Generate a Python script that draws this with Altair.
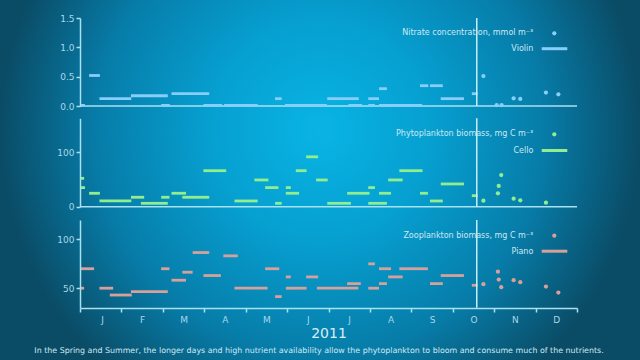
import altair as alt
import pandas as pd

# ---------------- data (x in months since 1 Jan 2011) ----------------
MONTHS = ["J", "F", "M", "A", "M", "J", "J", "A", "S", "O", "N", "D"]
PLAYHEAD = 9.58

# Nitrate concentration (Violin)
nit_start = [0.00, 0.22, 0.47, 1.23, 1.96, 2.21, 2.98, 3.48, 4.71, 4.95, 5.97, 6.48, 6.96, 6.96, 7.22, 7.22, 8.21, 8.45, 8.71, 9.46]
nit_end   = [0.12, 0.48, 1.24, 2.12, 2.17, 3.12, 3.43, 4.29, 4.87, 5.96, 6.73, 6.81, 7.12, 7.22, 7.41, 8.26, 8.41, 8.76, 9.27, 9.60]
nit_val   = [0.01, 0.52, 0.125, 0.175, 0.01, 0.21, 0.01, 0.01, 0.125, 0.01, 0.125, 0.01, 0.01, 0.125, 0.295, 0.01, 0.346, 0.346, 0.125, 0.21]
nit_dot_t = [9.74, 10.06, 10.18, 10.47, 10.63, 11.25, 11.55]
nit_dot_v = [0.51, 0.015, 0.015, 0.13, 0.12, 0.23, 0.20]

# Phytoplankton biomass (Cello)
phy_start = [0.00, 0.00, 0.22, 0.47, 1.23, 1.47, 1.96, 2.21, 2.47, 2.98, 3.73, 4.21, 4.47, 4.71, 4.97, 4.97, 5.21, 5.46, 5.70, 5.97, 6.45, 6.96, 6.96, 7.22, 7.44, 7.71, 8.21, 8.45, 8.71, 9.46]
phy_end   = [0.10, 0.12, 0.48, 1.24, 1.55, 2.12, 2.16, 2.56, 3.12, 3.53, 4.29, 4.55, 4.79, 4.87, 5.09, 5.29, 5.47, 5.75, 5.98, 6.54, 6.99, 7.12, 7.41, 7.51, 7.79, 8.27, 8.40, 8.76, 9.27, 9.60]
phy_val   = [52, 35, 24.6, 10.5, 17.3, 6.2, 17.3, 24.6, 17.3, 66, 10.5, 49, 35, 6.2, 35, 24.6, 66, 91.4, 49, 6.2, 24.6, 35, 6.2, 24.6, 49, 66, 24.6, 10.5, 41.7, 20.2]
phy_dot_t = [9.74, 10.09, 10.11, 10.17, 10.47, 10.63, 11.25]
phy_dot_v = [11, 24.5, 38, 58, 14.7, 11.7, 7.4]

# Zooplankton biomass (Piano)
zoo_start = [0.00, 0.00, 0.47, 0.72, 1.23, 1.96, 2.21, 2.47, 2.72, 2.98, 3.46, 3.73, 4.47, 4.71, 4.97, 4.97, 5.46, 5.72, 6.45, 6.96, 6.96, 7.22, 7.22, 7.44, 7.71, 8.45, 8.71, 9.46]
zoo_end   = [0.10, 0.34, 0.80, 1.25, 2.12, 2.16, 2.56, 2.72, 3.12, 3.40, 3.81, 4.53, 4.81, 4.87, 5.09, 5.47, 5.75, 6.72, 6.78, 7.12, 7.22, 7.51, 7.41, 7.79, 8.40, 8.76, 9.27, 9.60]
zoo_val   = [50, 70, 50, 43, 46.5, 70, 58.2, 66.4, 86.6, 63, 83.2, 50, 70, 41.4, 61.6, 50, 61.6, 50, 54.7, 75, 50, 70, 54.7, 61.6, 70, 54.7, 63, 53]
zoo_dot_t = [9.74, 10.09, 10.11, 10.17, 10.47, 10.63, 11.25, 11.55]
zoo_dot_v = [54.1, 67, 58.9, 51, 58.2, 56.2, 51.7, 45.5]

# ---------------- styling ----------------
W, H = 497, 290
PAD = {"left": 80, "top": 18, "right": 63, "bottom": 52}
AXIS_COL = "#a8e2f2"
LABEL_COL = "#a8d8ea"
TEXT_COL = "#cfe8f2"
FONT = "DejaVu Sans"
PLAY_COL = "#c8eef8"
VIOLIN_COL = "#87cefa"
CELLO_COL = "#90ee90"
PIANO_COL = "#d8a09a"

month_arr = "[" + ",".join("'%s'" % m for m in MONTHS) + ",'']"
xscale = alt.Scale(domain=[0, 12], nice=False, zero=False)
xaxis = alt.Axis(
    values=list(range(13)),
    labelExpr=month_arr + "[datum.value]",
    labelOffset=20.7,
    title="2011",
    titleFontSize=14,
    titleFontWeight="normal",
    titleColor="#d8eff7",
    titleFont=FONT,
    titlePadding=2,
    labelFont=FONT,
    labelFontSize=9,
    labelColor=LABEL_COL,
    labelPadding=3,
    tickSize=4,
    tickColor=AXIS_COL,
    tickWidth=1.5,
    domainColor=AXIS_COL,
    domainWidth=1.5,
    grid=False,
    zindex=2,
)


def panel(start, end, val, dt, dv, color, domain, rng, ticks, fmt, baseline):
    segs = pd.DataFrame({"start": start, "end": end, "value": val})
    dots = pd.DataFrame({"t": dt, "value": dv})
    yscale = alt.Scale(domain=domain, range=rng, nice=False, zero=False)
    yaxis = alt.Axis(
        orient="left", values=ticks, format=fmt, title=None, grid=False,
        labelFont=FONT, labelFontSize=9, labelColor=LABEL_COL, labelPadding=2,
        tickSize=4, tickColor=AXIS_COL, tickWidth=1.5,
        domainColor=AXIS_COL, domainWidth=1.5, zindex=2,
    )
    seg = alt.Chart(segs).mark_rule(color=color, strokeWidth=2.8, strokeCap="butt").encode(
        x=alt.X("start:Q", scale=xscale, axis=xaxis),
        x2="end:Q",
        y=alt.Y("value:Q", scale=yscale, axis=yaxis),
    )
    dot = alt.Chart(dots).mark_circle(color=color, size=18, opacity=1).encode(
        x=alt.X("t:Q", scale=xscale, axis=xaxis),
        y=alt.Y("value:Q", scale=yscale, axis=yaxis),
    )
    one = pd.DataFrame({"k": [0]})
    play = alt.Chart(one).mark_rule(color=PLAY_COL, strokeWidth=1.5).encode(
        x=alt.datum(PLAYHEAD, scale=xscale),
        y=alt.datum(domain[0]),
        y2=alt.datum(domain[1]),
    )
    layers = [seg, dot, play]
    if baseline:
        base = alt.Chart(one).mark_rule(color=AXIS_COL, strokeWidth=1.5).encode(
            x=alt.datum(0), x2=alt.datum(12), y=alt.datum(domain[0]),
        )
        layers.insert(0, base)
    return alt.layer(*layers)


p1 = panel(nit_start, nit_end, nit_val, nit_dot_t, nit_dot_v, VIOLIN_COL,
           [0, 1.5], [88, 0], [0, 0.5, 1.0, 1.5], ".1f", True)
p2 = panel(phy_start, phy_end, phy_val, phy_dot_t, phy_dot_v, CELLO_COL,
           [0, 162], [188.7, 100.3], [0, 100], "d", True)
p3 = panel(zoo_start, zoo_end, zoo_val, zoo_dot_t, zoo_dot_v, PIANO_COL,
           [30, 120], [289.7, 202], [50, 100], "d", False)

# background radial gradient
bg_fill = {
    "gradient": "radial",
    "x1": 0.5, "y1": 0.5, "r1": 0,
    "x2": 0.5, "y2": 0.5, "r2": 0.5,
    "stops": [
        {"offset": 0.0, "color": "#08b4e4"},
        {"offset": 0.35, "color": "#069fd0"},
        {"offset": 0.7, "color": "#077ca8"},
        {"offset": 1.0, "color": "#0a4c66"},
    ],
}
one = pd.DataFrame({"k": [0]})
bg = alt.Chart(one).mark_rect(fill=bg_fill, stroke=None).encode(
    x=alt.value(-80), x2=alt.value(560), y=alt.value(-208), y2=alt.value(432)
)

# legend-like annotations
leg_titles = ["Nitrate concentration, mmol m\u207b\u00b3",
              "Phytoplankton biomass, mg C m\u207b\u00b3",
              "Zooplankton biomass, mg C m\u207b\u00b3"]
leg_names = ["Violin", "Cello", "Piano"]
leg_colors = [VIOLIN_COL, CELLO_COL, PIANO_COL]
leg_y1 = [15.3, 116.3, 217.7]
leg_y2 = [30.7, 132.5, 233.2]

legend_layers = []
for t, n, c, ya, yb in zip(leg_titles, leg_names, leg_colors, leg_y1, leg_y2):
    legend_layers.append(alt.Chart(one).mark_text(
        text=t, align="right", baseline="middle", font=FONT, fontSize=8, color=TEXT_COL
    ).encode(x=alt.value(453.3), y=alt.value(ya)))
    legend_layers.append(alt.Chart(one).mark_text(
        text=n, align="right", baseline="middle", font=FONT, fontSize=8, color=TEXT_COL
    ).encode(x=alt.value(453.3), y=alt.value(yb + 0.5)))
    legend_layers.append(alt.Chart(one).mark_circle(color=c, size=18, opacity=1).encode(
        x=alt.value(474.3), y=alt.value(ya)))
    legend_layers.append(alt.Chart(one).mark_rule(color=c, strokeWidth=3, strokeCap="butt").encode(
        x=alt.value(461.7), x2=alt.value(487.3), y=alt.value(yb)))

caption = alt.Chart(one).mark_text(
    text="In the Spring and Summer, the longer days and high nutrient availability allow the phytoplankton to bloom and consume much of the nutrients.",
    align="center", baseline="middle", font=FONT, fontSize=7.9, color=TEXT_COL,
).encode(x=alt.value(239), y=alt.value(333))

chart = alt.layer(bg, p1, p2, p3, *legend_layers, caption).resolve_scale(
    y="independent"
).resolve_axis(y="independent").properties(
    width=W, height=H, padding=PAD, autosize=alt.AutoSizeParams(type="none"),
    background="#0a4c66",
).configure_view(stroke=None)

chart.save("out.html", embed_options={"renderer": "svg", "actions": False})
